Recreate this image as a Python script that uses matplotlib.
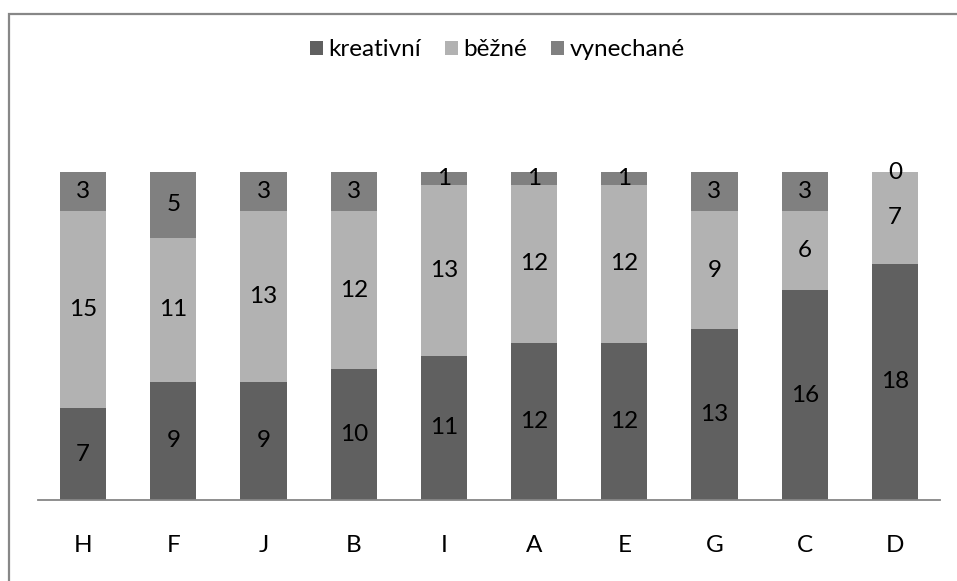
import matplotlib.pyplot as plt
import matplotlib.patches as mpatches
import numpy as np

plt.rcParams['font.family'] = ['Lato', 'DejaVu Sans']

kategorie = ['H', 'F', 'J', 'B', 'I', 'A', 'E', 'G', 'C', 'D']
kreativni = [7, 9, 9, 10, 11, 12, 12, 13, 16, 18]
bezne = [15, 11, 13, 12, 13, 12, 12, 9, 6, 7]
vynechane = [3, 5, 3, 3, 1, 1, 1, 3, 3, 0]

barvy = ['#606060', '#b2b2b2', '#808080']
W, H = 957, 581
fs = 17.5

fig = plt.figure(figsize=(W / 100, H / 100), dpi=100)
ax = fig.add_axes([38 / W, (H - 500) / H, (940 - 38) / W, (500 - 172) / H])

x = np.arange(len(kategorie))
k = np.array(kreativni)
b = np.array(bezne)
v = np.array(vynechane)

b1 = ax.bar(x, k, width=0.51, color=barvy[0], label='kreativní')
b2 = ax.bar(x, b, width=0.51, bottom=k, color=barvy[1], label='běžné')
b3 = ax.bar(x, v, width=0.51, bottom=k + b, color=barvy[2], label='vynechané')
for bars in (b1, b2, b3):
    ax.bar_label(bars, label_type='center', fontsize=fs, color='black', clip_on=False)

ax.set_xlim(-0.5, len(kategorie) - 0.5)
ax.set_ylim(0, 25)
ax.set_xticks(x)
ax.set_xticklabels(kategorie, fontsize=fs)
ax.tick_params(axis='x', length=0, pad=25)
ax.set_yticks([])
for s in ['top', 'right', 'left']:
    ax.spines[s].set_visible(False)
ax.spines['bottom'].set_color('#868686')
ax.spines['bottom'].set_linewidth(1.3)

fig.legend(loc='center', bbox_to_anchor=(497 / W, 1 - 50 / H), ncol=3,
           frameon=False, fontsize=fs, handlelength=0.55, handleheight=0.55,
           handletextpad=0.2, columnspacing=1.0)

# ramecek grafu (vidi se jen horni a leva strana)
fig.patches.append(mpatches.Rectangle((8.5 / W, -0.2), 1.2, 1.2 - 13.5 / H,
                                      transform=fig.transFigure, fill=False,
                                      edgecolor='#878787', linewidth=1.6,
                                      clip_on=False))

fig.savefig('out.png', dpi=100)
